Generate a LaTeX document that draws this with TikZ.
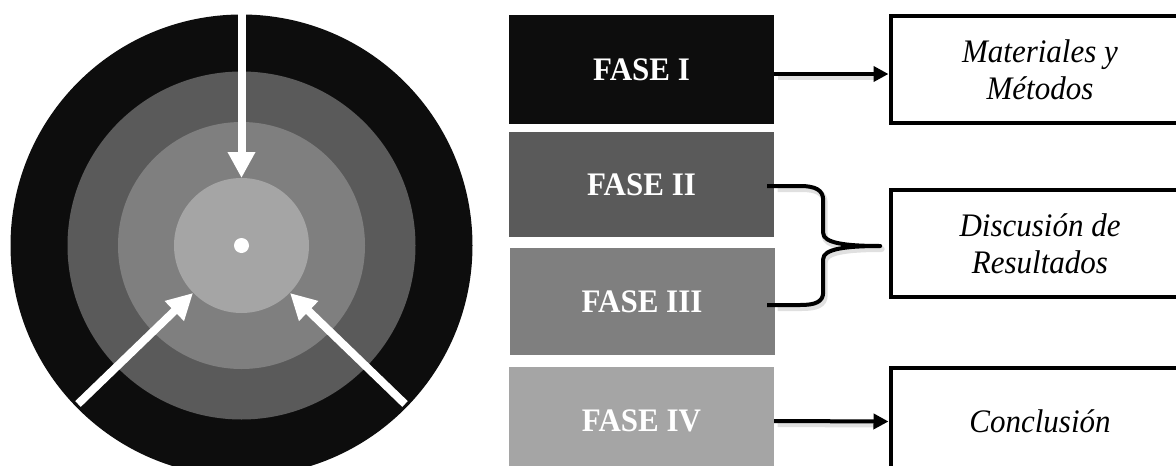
\documentclass[tikz,border=0pt]{standalone}
\usepackage{graphicx}
\usepackage{fontspec}
\setmainfont{Liberation Serif}
\usetikzlibrary{arrows.meta}
\definecolor{cA}{HTML}{0D0D0D}
\definecolor{cB}{HTML}{5A5A5A}
\definecolor{cC}{HTML}{7F7F7F}
\definecolor{cD}{HTML}{A5A5A5}
\newcommand\tallt[1]{\scalebox{1}[1.06]{#1}}
\tikzset{
  fasebox/.style={rectangle, minimum width=265pt, inner sep=0pt, text=white,
    font=\fontsize{31}{37}\selectfont\bfseries},
  resbox/.style={rectangle, draw=black, line width=4pt, minimum width=299pt, minimum height=107pt,
    align=center, font=\fontsize{31}{37}\selectfont\itshape},
  whitearr/.style={white, line width=8pt, -{Triangle[length=26pt,width=26pt]}},
  blackarr/.style={black, line width=4pt, -{Triangle[length=15pt,width=15pt]}},
  bracestyle/.style={black, line width=4pt, line join=round},
  softshadow/.style={black!12, line width=6pt, line join=round, transform canvas={shift={(1.5pt,-3pt)}}}
}
\begin{document}
\begin{tikzpicture}[x=1pt,y=-1pt]
\useasboundingbox (0,0) rectangle (1176,466);
\clip (0,0) rectangle (1176,466);
% target
\coordinate (o) at (241.5,245.5);
\fill[cA] (o) circle[radius=231pt];
\fill[cB] (o) circle[radius=174pt];
\fill[cC] (o) circle[radius=123.5pt];
\fill[cD] (o) circle[radius=67.5pt];
\fill[white] (o) circle[radius=7.5pt];
\coordinate (t1) at (241.5,14);
\coordinate (h1) at (241.5,178);
\coordinate (t2) at (78,404);
\coordinate (h2) at (193,293);
\coordinate (t3) at (405,404);
\coordinate (h3) at (290,293);
\draw[whitearr] (t1) -- (h1);
\draw[whitearr] (t2) -- (h2);
\draw[whitearr] (t3) -- (h3);
% phases
\node[fasebox, fill=cA, minimum height=109pt] (f1) at (641.5,69.5) {\tallt{FASE I}};
\node[fasebox, fill=cB, minimum height=105pt] (f2) at (641.5,184.5) {\tallt{FASE II}};
\node[fasebox, fill=cC, minimum height=107pt] (f3) at (642,301.5) {\tallt{FASE III}};
\node[fasebox, fill=cD, minimum height=108pt] (f4) at (641.5,421) {\tallt{FASE IV}};
% results
\node[resbox] (m) at (1040,69.5) {\tallt{Materiales y}\\\tallt{Métodos}};
\node[resbox] (d) at (1040,243.5) {\tallt{Discusión de}\\\tallt{Resultados}};
\node[resbox] (c) at (1040,421.5) {\tallt{Conclusión}};
% connectors
\draw[softshadow] ([xshift=2pt,yshift=-4.5pt]f1.east) -- ([xshift=-16pt,yshift=-4.5pt]m.west);
\draw[softshadow] ([xshift=2pt]f4.east) -- ([xshift=-16pt]c.west);
\draw[blackarr] ([yshift=-4.5pt]f1.east) -- ([yshift=-4.5pt]m.west);
\draw[blackarr] (f4.east) -- (c.west);
\coordinate (b1) at ([xshift=-7pt,yshift=-1.5pt]f2.east);
\draw[softshadow] ([xshift=9pt]b1) -- ++(24,0) .. controls +(15,0) and +(0,-10) .. ++(23,14)
  -- ++(0,33) .. controls +(0,10) and +(-35,0) .. ++(57,13)
  .. controls +(-35,0) and +(0,-10) .. ++(-57,13)
  -- ++(0,33) .. controls +(0,10) and +(15,0) .. ++(-23,13) -- ++(-24,0);
\draw[bracestyle] (b1) -- ++(33,0) .. controls +(15,0) and +(0,-10) .. ++(23,14)
  -- ++(0,33) .. controls +(0,10) and +(-35,0) .. ++(57,13) coordinate (cusp)
  .. controls +(-35,0) and +(0,-10) .. ++(-57,13)
  -- ++(0,33) .. controls +(0,10) and +(15,0) .. ++(-23,13) -- ++(-33,0) coordinate (b2);
\end{tikzpicture}
\end{document}
